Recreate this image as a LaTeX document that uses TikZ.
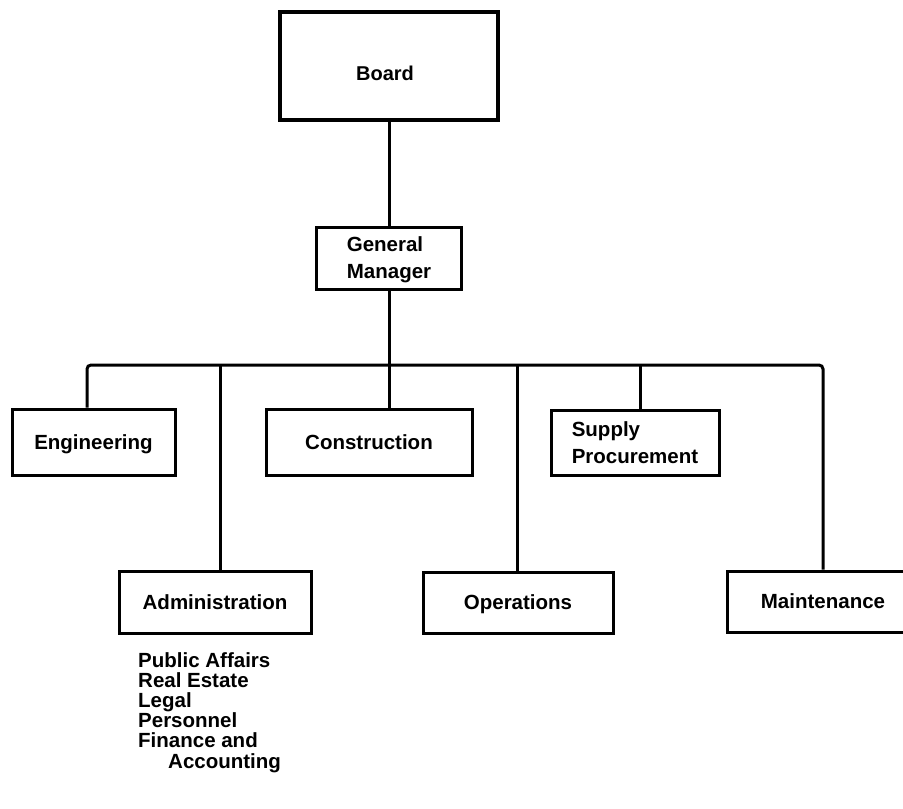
\documentclass[tikz,border=0pt]{standalone}
\usepackage{fontspec}
\setmainfont{Liberation Sans}
\begin{document}
\begin{tikzpicture}[x=1pt,y=-1pt,
  box/.style={draw=black,line width=3pt,fill=white,inner sep=0pt,
    font=\bfseries\fontsize{20.5}{27}\selectfont},
  oneline/.style={text height=14.7pt,text depth=0pt},
  twoline/.style={align=left},
  conn/.style={draw=black,line width=3pt},
  listtxt/.style={inner sep=0pt,align=left,
    font=\bfseries\fontsize{20.5}{20.2}\selectfont}]
\useasboundingbox (0,0) rectangle (903,809);
\clip (0,0) rectangle (903,809);
% boxes
\node[box,line width=4pt,minimum width=218pt,minimum height=108pt] (board) at (389,66) {};
\node[inner sep=0pt,text height=14.3pt,text depth=0pt,font=\bfseries\fontsize{20}{24}\selectfont] (boardtxt) at (385,73) {Board};
\node[box,twoline,minimum width=145pt,minimum height=62pt] (gm) at (389,258) {General\\Mana\smash{g}er};
\node[box,oneline,minimum width=163pt,minimum height=66pt] (eng) at (93.5,442) {Engineering};
\node[box,oneline,minimum width=206pt,minimum height=66pt] (con) at (369,442) {Construction};
\node[box,twoline,minimum width=168pt,minimum height=65pt] (sup) at (635,443) {Supply\\Procurement};
\node[box,oneline,minimum width=192pt,minimum height=62pt] (adm) at (215,602) {Administration};
\node[box,oneline,minimum width=190pt,minimum height=61pt] (ops) at (518,602.5) {Operations};
\node[box,oneline,minimum width=192pt,minimum height=61pt] (maint) at (823,601.5) {Maintenance};
\node[listtxt,anchor=north west] (admlist) at (138,652) {Public Affairs\\Real Estate\\Legal\\Personnel\\Finance and\\\hspace*{30pt}Accounting};
% bus coordinates
\coordinate (d1) at (87,365);
\coordinate (d2) at (220,365);
\coordinate (d4) at (517,365);
\coordinate (d5) at (640,365);
\coordinate (d6) at (823,365);
% connectors
\draw[conn] (board) -- (gm);
\draw[conn] (gm.south) -- (gm.south |- con.north);
\draw[conn,rounded corners=4pt] (d1 |- eng.north) -- (d1) -- (d6) -- (d6 |- maint.north);
\draw[conn] (d2) -- (d2 |- adm.north);
\draw[conn] (d4) -- (d4 |- ops.north);
\draw[conn] (d5) -- (d5 |- sup.north);
\end{tikzpicture}
\end{document}
